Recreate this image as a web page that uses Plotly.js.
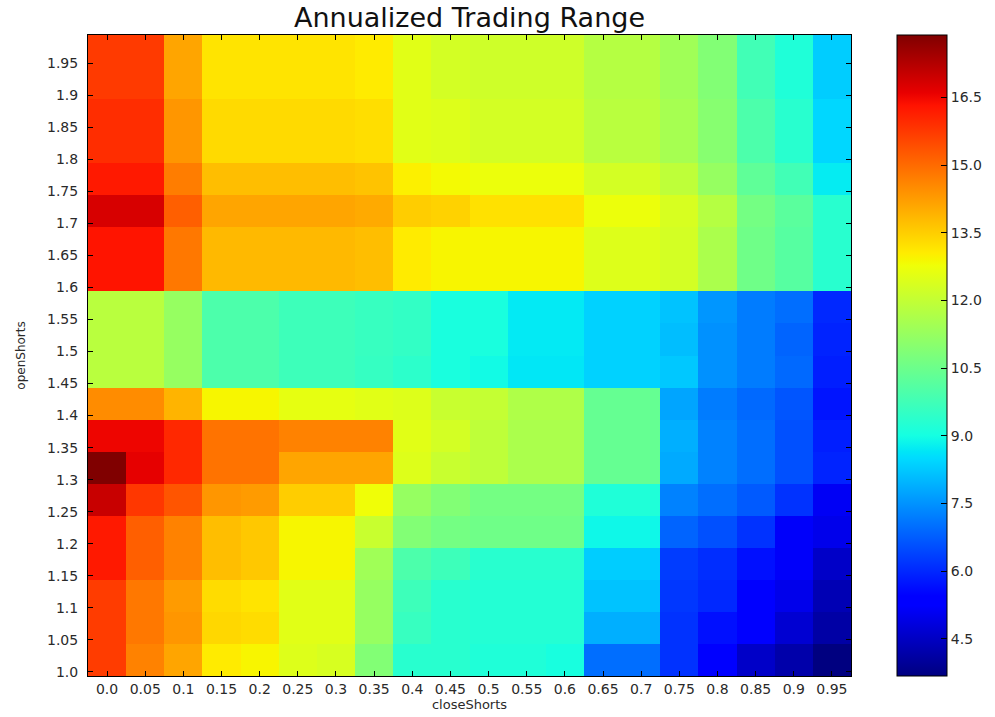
<!DOCTYPE html>
<html>
<head>
<meta charset="utf-8">
<script src="https://cdn.plot.ly/plotly-3.0.1.min.js"></script>
<style>html,body{margin:0;padding:0;background:#fff;}#chart{width:995px;height:717px;}</style>
</head>
<body>
<div id="chart"></div>
<script>
// closeShorts (x) and openShorts (y) tick labels
const closeShorts = ["0.0","0.05","0.1","0.15","0.2","0.25","0.3","0.35","0.4","0.45","0.5","0.55","0.6","0.65","0.7","0.75","0.8","0.85","0.9","0.95"];
const openShorts  = ["1.0","1.05","1.1","1.15","1.2","1.25","1.3","1.35","1.4","1.45","1.5","1.55","1.6","1.65","1.7","1.75","1.8","1.85","1.9","1.95"];

// Annualized trading range, one row per openShorts value (columns follow closeShorts)
const row_100 = [15.70,14.65,14.12,13.07,12.93,12.45,12.36,10.89,9.34,9.34,9.17,9.17,9.05,6.99,6.99,6.15,5.30,4.57,4.20,3.68];
const row_105 = [15.70,14.80,14.35,13.37,13.29,12.53,12.53,11.24,9.60,9.34,9.25,9.25,9.25,7.89,7.89,6.15,5.66,5.24,4.69,4.13];
const row_110 = [15.70,14.80,14.27,13.29,13.17,12.53,12.53,11.24,9.69,9.34,9.25,9.25,9.25,8.17,8.17,6.22,6.01,5.35,4.99,4.32];
const row_115 = [16.23,15.17,14.65,13.75,13.59,12.91,12.91,11.41,9.95,9.69,9.34,9.34,9.34,8.31,8.31,6.29,6.08,5.66,5.18,4.57];
const row_120 = [16.23,15.17,14.65,13.75,13.59,12.91,12.91,12.10,10.89,10.64,10.55,10.55,10.55,8.91,8.91,6.85,6.57,6.15,5.18,4.99];
const row_125 = [17.00,15.78,15.32,14.35,14.27,13.52,13.52,12.79,11.24,10.89,10.64,10.64,10.64,9.17,9.17,7.27,6.99,6.71,6.15,5.12];
const row_130 = [17.88,16.63,16.00,14.87,14.87,14.12,14.12,14.12,12.45,12.10,11.93,11.59,11.59,10.38,10.38,7.82,7.27,6.99,6.57,5.94];
const row_135 = [16.53,16.53,16.00,14.87,14.87,14.65,14.65,14.65,12.53,12.28,11.93,11.59,11.59,10.38,10.38,7.89,7.27,6.99,6.57,5.87];
const row_140 = [14.50,14.50,13.90,12.91,12.91,12.62,12.62,12.53,12.45,12.10,12.02,11.67,11.67,10.38,10.38,7.75,7.19,6.92,6.64,5.73];
const row_145 = [11.84,11.84,11.24,9.95,9.95,9.69,9.69,9.55,9.40,9.08,8.95,8.66,8.66,8.38,8.38,8.24,7.47,7.19,6.92,5.87];
const row_150 = [11.84,11.84,11.24,9.95,9.95,9.69,9.69,9.60,9.51,9.08,9.08,8.70,8.70,8.38,8.38,8.10,7.47,7.19,6.85,5.94];
const row_155 = [11.84,11.84,11.24,9.95,9.95,9.69,9.69,9.60,9.51,9.08,9.08,8.70,8.70,8.38,8.38,8.17,7.54,7.19,6.99,6.01];
const row_160 = [16.30,16.30,14.80,13.82,13.82,13.82,13.82,13.75,13.07,12.93,12.91,12.91,12.91,12.45,12.45,12.28,11.59,10.55,10.12,9.34];
const row_165 = [16.30,16.30,14.80,13.82,13.82,13.82,13.82,13.75,13.07,12.93,12.91,12.91,12.91,12.45,12.45,12.28,11.59,10.55,10.12,9.34];
const row_170 = [16.81,16.81,15.17,14.12,14.12,14.12,14.12,14.05,13.52,13.44,13.22,13.22,13.22,12.71,12.71,12.36,11.76,10.64,10.20,9.34];
const row_175 = [16.23,16.23,14.72,13.75,13.75,13.75,13.75,13.67,12.99,12.85,12.71,12.71,12.71,12.28,12.28,11.93,11.24,10.29,9.77,8.73];
const row_180 = [15.93,15.93,14.35,13.32,13.32,13.32,13.32,13.27,12.53,12.45,12.28,12.28,12.28,11.84,11.84,11.50,10.98,9.95,9.34,8.45];
const row_185 = [15.93,15.93,14.35,13.32,13.32,13.32,13.32,13.27,12.53,12.45,12.28,12.28,12.28,11.84,11.84,11.50,10.98,9.95,9.34,8.45];
const row_190 = [15.73,15.73,14.12,13.17,13.17,13.17,13.17,13.07,12.53,12.28,12.19,12.19,12.19,11.76,11.76,11.41,10.89,9.77,9.17,8.31];
const row_195 = [15.73,15.73,14.12,13.17,13.17,13.17,13.17,13.07,12.53,12.28,12.19,12.19,12.19,11.76,11.76,11.41,10.89,9.77,9.17,8.31];

const colorbarTicks = [4.5, 6.0, 7.5, 9.0, 10.5, 12.0, 13.5, 15.0, 16.5];
const zMin = 3.68, zMax = 17.88;

const z = [row_100,row_105,row_110,row_115,row_120,row_125,row_130,row_135,row_140,row_145,
           row_150,row_155,row_160,row_165,row_170,row_175,row_180,row_185,row_190,row_195];

// matplotlib "jet" colormap breakpoints
const jet = [
  [0.0,'rgb(0,0,128)'],[0.11,'rgb(0,0,255)'],[0.125,'rgb(0,0,255)'],
  [0.34,'rgb(0,219,255)'],[0.35,'rgb(0,230,247)'],[0.375,'rgb(21,255,226)'],
  [0.64,'rgb(239,255,8)'],[0.65,'rgb(247,246,0)'],[0.66,'rgb(255,236,0)'],
  [0.89,'rgb(255,19,0)'],[0.91,'rgb(232,0,0)'],[1.0,'rgb(128,0,0)']
];

const xIdx = closeShorts.map((_, i) => i);
const yIdx = openShorts.map((_, i) => i);

const font = {family: 'DejaVu Sans', size: 14, color: '#2a2a2a'};

const trace = {
  type: 'heatmap',
  x: xIdx, y: yIdx, z: z,
  zmin: zMin, zmax: zMax,
  colorscale: jet,
  showscale: true,
  hoverinfo: 'skip',
  colorbar: {
    x: 1.0603, xanchor: 'left', xpad: 0,
    y: 0.5, yanchor: 'middle', len: 1, lenmode: 'fraction', ypad: 0,
    thickness: 50, thicknessmode: 'pixels',
    outlinecolor: '#000', outlinewidth: 1,
    tickmode: 'array', tickvals: colorbarTicks, tickformat: '.1f',
    ticks: 'inside', ticklen: 6, tickcolor: '#000',
    tickfont: font
  }
};

const layout = {
  width: 995, height: 717,
  paper_bgcolor: '#fff', plot_bgcolor: '#fff',
  margin: {l: 88, r: 144, t: 35, b: 41, pad: 0, autoexpand: false},
  title: {text: 'Annualized Trading Range', x: 0.5, xref: 'paper', xanchor: 'center',
          y: 0.976, yref: 'container', yanchor: 'middle',
          font: {family: 'DejaVu Sans', size: 27, color: '#111'}},
  xaxis: {
    range: [-0.5, 19.5], tickmode: 'array',
    tickvals: xIdx, ticktext: closeShorts,
    ticks: 'inside', ticklen: 5, tickcolor: '#000',
    showline: true, linecolor: '#000', linewidth: 1, mirror: 'ticks',
    showgrid: false, zeroline: false, tickfont: font,
    title: {text: 'closeShorts', standoff: 3, font: {family: 'DejaVu Sans', size: 13, color: '#2a2a2a'}}
  },
  yaxis: {
    range: [-0.5, 19.5], tickmode: 'array',
    tickvals: yIdx.map(i => i - 0.375), ticktext: openShorts,
    ticks: 'inside', ticklen: 5, tickcolor: '#000',
    showline: true, linecolor: '#000', linewidth: 1, mirror: 'ticks',
    showgrid: false, zeroline: false, tickfont: font, ticklabelstandoff: 6,
    title: {text: 'openShorts', standoff: 18, font: {family: 'DejaVu Sans', size: 12, color: '#2a2a2a'}}
  }
};

Plotly.newPlot('chart', [trace], layout, {displayModeBar: false, staticPlot: true});
</script>
</body>
</html>
